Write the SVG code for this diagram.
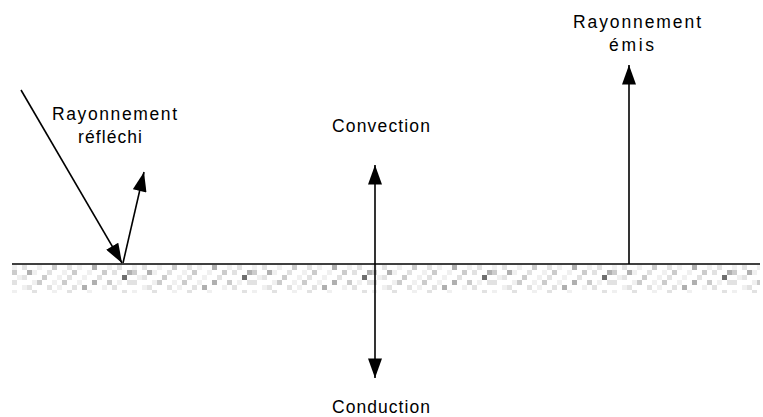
<svg xmlns="http://www.w3.org/2000/svg" width="763" height="417" viewBox="0 0 763 417">
<defs>
<style>
text{font-family:"Liberation Sans",Arial,sans-serif;font-size:17.5px;fill:#000}
.ln{stroke:#000;stroke-width:1.6;fill:none}
.a{fill:#f0f0f0}.b{fill:#e2e2e2}.c{fill:#cccccc}.d{fill:#b0b0b0}.e{fill:#707070}
</style>
<marker id="ah" markerUnits="userSpaceOnUse" markerWidth="20" markerHeight="14" refX="18" refY="6.5" orient="auto" viewBox="0 0 18 13">
<path d="M0,0 L18,6.5 L0,13 Z" fill="#000"/>
</marker>
<marker id="ahs" markerUnits="userSpaceOnUse" markerWidth="20" markerHeight="14" refX="0" refY="6.5" orient="auto" viewBox="0 0 18 13">
<path d="M18,0 L0,6.5 L18,13 Z" fill="#000"/>
</marker>
<pattern id="grit" patternUnits="userSpaceOnUse" x="12" y="265" width="120" height="30">
<rect x="0" y="0" width="5" height="5" class="a"/><rect x="10" y="0" width="5" height="5" class="b"/>
<rect x="25" y="0" width="5" height="5" class="a"/><rect x="40" y="0" width="5" height="5" class="c"/>
<rect x="55" y="0" width="5" height="5" class="b"/><rect x="65" y="0" width="5" height="5" class="a"/>
<rect x="80" y="0" width="5" height="5" class="d"/><rect x="95" y="0" width="5" height="5" class="a"/>
<rect x="105" y="0" width="5" height="5" class="b"/>
<rect x="0" y="5" width="5" height="5" class="c"/><rect x="15" y="5" width="5" height="5" class="d"/>
<rect x="20" y="5" width="5" height="5" class="a"/><rect x="35" y="5" width="5" height="5" class="b"/>
<rect x="50" y="5" width="5" height="5" class="a"/><rect x="60" y="5" width="5" height="5" class="c"/>
<rect x="75" y="5" width="5" height="5" class="a"/><rect x="90" y="5" width="5" height="5" class="c"/>
<rect x="100" y="5" width="5" height="5" class="b"/><rect x="115" y="5" width="5" height="5" class="d"/>
<rect x="5" y="10" width="5" height="5" class="a"/><rect x="10" y="10" width="5" height="5" class="b"/>
<rect x="30" y="10" width="5" height="5" class="c"/><rect x="45" y="10" width="5" height="5" class="a"/>
<rect x="55" y="10" width="5" height="5" class="b"/><rect x="70" y="10" width="5" height="5" class="a"/>
<rect x="85" y="10" width="5" height="5" class="b"/><rect x="110" y="10" width="5" height="5" class="e"/>
<rect x="0" y="15" width="5" height="5" class="b"/><rect x="20" y="15" width="5" height="5" class="a"/>
<rect x="25" y="15" width="5" height="5" class="c"/><rect x="40" y="15" width="5" height="5" class="a"/>
<rect x="50" y="15" width="5" height="5" class="c"/><rect x="65" y="15" width="5" height="5" class="a"/>
<rect x="80" y="15" width="5" height="5" class="d"/><rect x="95" y="15" width="5" height="5" class="c"/>
<rect x="105" y="15" width="5" height="5" class="a"/><rect x="115" y="15" width="5" height="5" class="b"/>
<rect x="10" y="20" width="5" height="5" class="a"/><rect x="15" y="20" width="5" height="5" class="b"/>
<rect x="35" y="20" width="5" height="5" class="b"/><rect x="45" y="20" width="5" height="5" class="a"/>
<rect x="60" y="20" width="5" height="5" class="b"/><rect x="70" y="20" width="5" height="5" class="d"/>
<rect x="90" y="20" width="5" height="5" class="a"/><rect x="100" y="20" width="5" height="5" class="b"/>
<rect x="0" y="25" width="5" height="3" class="a"/><rect x="20" y="25" width="5" height="3" class="b"/>
<rect x="40" y="25" width="5" height="3" class="a"/><rect x="55" y="25" width="5" height="3" class="b"/>
<rect x="75" y="25" width="5" height="3" class="a"/><rect x="110" y="25" width="5" height="3" class="b"/>
</pattern>
</defs>
<rect width="763" height="417" fill="#fff"/>
<g id="ground">
<rect x="12" y="265" width="748" height="28" fill="url(#grit)"/>
<line x1="12" y1="264" x2="760" y2="264" class="ln" stroke-width="2"/>
</g>
<g id="connectors">
<line x1="21" y1="90" x2="122" y2="263" class="ln" marker-end="url(#ah)"/>
<line x1="123" y1="263" x2="144" y2="172" class="ln" marker-end="url(#ah)"/>
<line x1="375" y1="378" x2="375" y2="165" class="ln" marker-start="url(#ahs)" marker-end="url(#ah)"/>
<line x1="629" y1="264" x2="629" y2="65" class="ln" marker-end="url(#ah)"/>
</g>
<g id="label-reflechi">
<text x="52" y="120" textLength="125" lengthAdjust="spacing">Rayonnement</text>
<text x="78" y="143" textLength="64" lengthAdjust="spacing">réfléchi</text>
</g>
<g id="label-convection">
<text x="332" y="132" textLength="98" lengthAdjust="spacing">Convection</text>
</g>
<g id="label-emis">
<text x="573" y="28" textLength="128" lengthAdjust="spacing">Rayonnement</text>
<text x="609" y="51" textLength="45" lengthAdjust="spacing">émis</text>
</g>
<g id="label-conduction">
<text x="332" y="413" textLength="98" lengthAdjust="spacing">Conduction</text>
</g>
</svg>
